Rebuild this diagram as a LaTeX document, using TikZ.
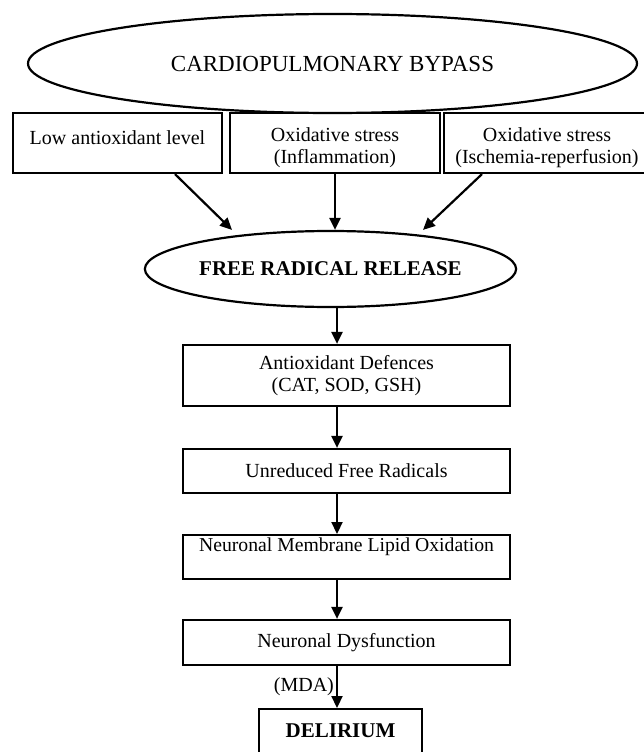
\documentclass[tikz,border=0pt]{standalone}
\usepackage{fontspec}
\setmainfont{Liberation Serif}
\usetikzlibrary{arrows.meta,positioning,calc,shapes}

\begin{document}
\begin{tikzpicture}[x=1pt, y=-1pt, line width=2.2pt,
    box/.style={draw, rectangle, inner sep=0pt, align=center, font=\fontsize{20}{22}\selectfont},
    oval/.style={draw, ellipse, inner sep=0pt, fill=white},
    arr/.style={-{Triangle[length=12pt,width=11pt]}}]
  \useasboundingbox (0,0) rectangle (644,752);
  \node[oval, minimum width=609pt, minimum height=99pt, font=\fontsize{23}{26}\selectfont] (cpb) at (332.5,63.5) {CARDIOPULMONARY BYPASS};
  \node[box, minimum width=209pt, minimum height=60pt] (low) at (117.5,143) {\rule{0pt}{24pt}Low antioxidant level\\~};
  \node[box, minimum width=210pt, minimum height=60pt] (infl) at (335,143) {\rule{0pt}{24pt}Oxidative stress\\(Inflammation)};
  \node[box, minimum width=206pt, minimum height=60pt] (isch) at (547,143) {\rule{0pt}{24pt}Oxidative stress\\(Ischemia-reperfusion)};
  \node[oval, minimum width=325pt, minimum height=76pt, font=\bfseries\fontsize{21}{24}\selectfont] (frr) at (330.5,269) {FREE RADICAL RELEASE};
  \node[box, minimum width=327pt, minimum height=61pt] (aod) at (346.5,375.5) {Antioxidant Defences\\(CAT, SOD, GSH)};
  \node[box, minimum width=327pt, minimum height=44pt] (unr) at (346.5,471) {Unreduced Free Radicals};
  \node[box, minimum width=327pt, text height=16pt, text depth=28pt, anchor=north, font=\fontsize{19.7}{22}\selectfont] (lip) at (346.5,534) {Neuronal Membrane Lipid Oxidation};
  \node[box, minimum width=327pt, minimum height=45pt] (dys) at (346.5,642.5) {Neuronal Dysfunction};
  \node[box, minimum width=163pt, text height=28pt, text depth=34pt, anchor=north, font=\bfseries\fontsize{21}{24}\selectfont] (del) at (340.5,708) {DELIRIUM};
  \coordinate (spine) at (337,0);

  \draw[arr] ([xshift=57.5pt]low.south) -- ([xshift=-98.5pt]frr.north);
  \draw[arr] (infl.south) -- (infl.south |- frr.north);
  \draw[arr] ([xshift=-65pt]isch.south) -- ([xshift=92.5pt]frr.north);
  \draw[arr] (frr.south -| spine) -- (aod.north -| spine);
  \draw[arr] (aod.south -| spine) -- (unr.north -| spine);
  \draw[arr] (unr.south -| spine) -- (lip.north -| spine);
  \draw[arr] (lip.south -| spine) -- (dys.north -| spine);
  \draw[arr] (dys.south -| spine) -- node[left, inner sep=2pt, font=\fontsize{20}{22}\selectfont] {(MDA)} (del.north -| spine);
\end{tikzpicture}
\end{document}
